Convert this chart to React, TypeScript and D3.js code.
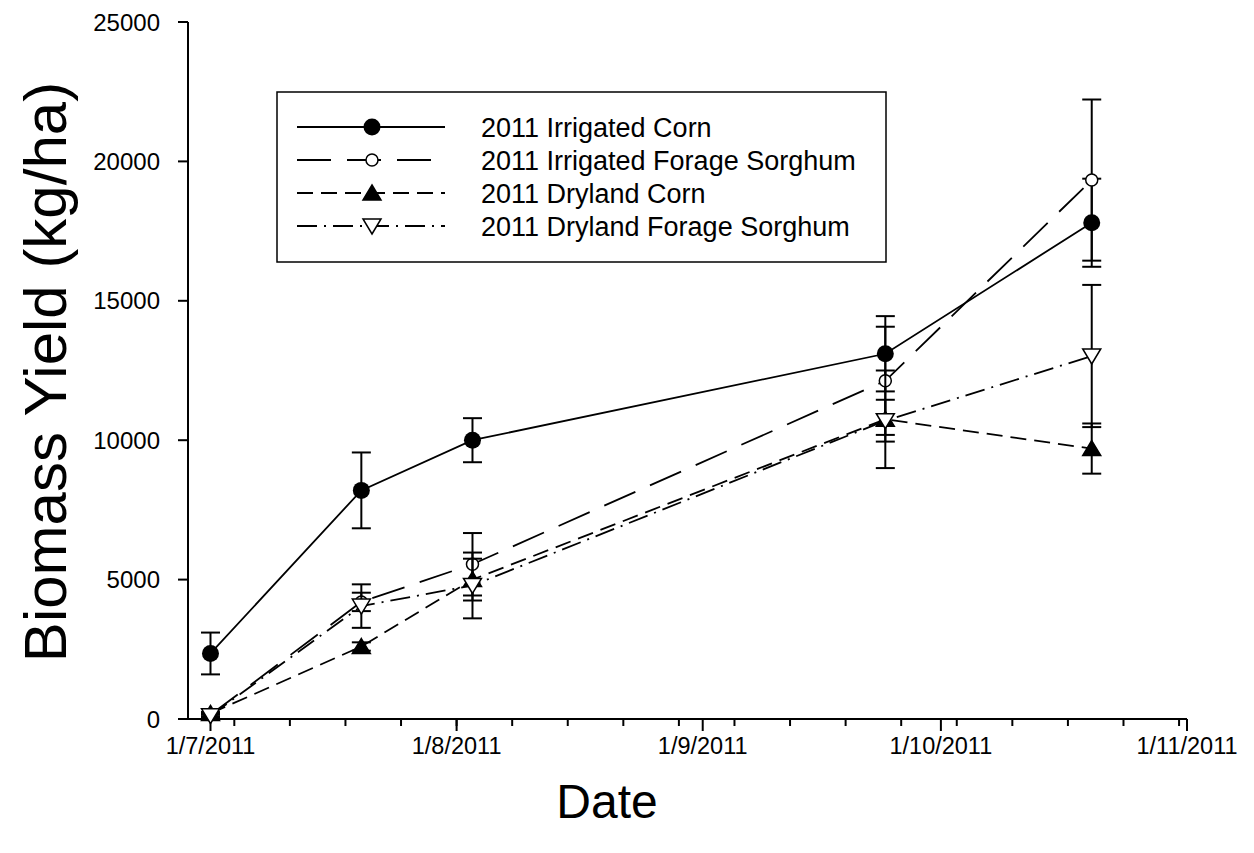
import React, { useEffect, useRef } from 'react';
import * as d3 from 'd3';

// sampling dates (d/m/yyyy in the original)
const sampleDates = [
  new Date(2011, 6, 1),
  new Date(2011, 6, 20),
  new Date(2011, 7, 3),
  new Date(2011, 8, 24),
  new Date(2011, 9, 20),
];

const seriesNames = [
  '2011 Irrigated Corn',
  '2011 Irrigated Forage Sorghum',
  '2011 Dryland Corn',
  '2011 Dryland Forage Sorghum',
];

const irrCorn = [2350, 8200, 10000, 13100, 17800];
const irrCornErr = [750, 1360, 790, 1350, 1580];
const irrSorghum = [150, 4200, 5550, 12130, 19330];
const irrSorghumErr = [60, 330, 1120, 1940, 2890];
const dryCorn = [200, 2600, 5000, 10750, 9700];
const dryCornErr = [50, 150, 750, 1750, 900];
const drySorghum = [120, 4050, 4790, 10700, 13020];
const drySorghumErr = [50, 780, 1180, 750, 2550];

const yTicks = [0, 5000, 10000, 15000, 20000, 25000];
const monthTicks = [
  new Date(2011, 6, 1),
  new Date(2011, 7, 1),
  new Date(2011, 8, 1),
  new Date(2011, 9, 1),
  new Date(2011, 10, 1),
];
const monthLabels = ['1/7/2011', '1/8/2011', '1/9/2011', '1/10/2011', '1/11/2011'];

const FONT = '"Liberation Sans", Arial, sans-serif';

function markerPath(kind: string) {
  // centred at 0,0
  if (kind === 'up') return 'M0,-8L9,7L-9,7Z';
  if (kind === 'down') return 'M0,8L9,-7L-9,-7Z';
  return '';
}

export default function App() {
  const ref = useRef<SVGSVGElement>(null);

  useEffect(() => {
    const svg = d3.select(ref.current);
    svg.selectAll('*').remove();

    const left = 188;
    const right = 1187;
    const top = 22;
    const bottom = 719;

    const x = d3
      .scaleTime()
      .domain([new Date(2011, 5, 28, 4), new Date(2011, 10, 1)])
      .range([left, right]);
    const y = d3.scaleLinear().domain([0, 25000]).range([bottom, top]);

    const series = [
      { name: seriesNames[0], vals: irrCorn, err: irrCornErr, dash: null, mark: 'filled' },
      { name: seriesNames[1], vals: irrSorghum, err: irrSorghumErr, dash: '34,16', mark: 'open' },
      { name: seriesNames[2], vals: dryCorn, err: dryCornErr, dash: '16,8', mark: 'up' },
      { name: seriesNames[3], vals: drySorghum, err: drySorghumErr, dash: '20,7,2,7', mark: 'down' },
    ];

    // axes
    const ax = svg.append('g').attr('stroke', '#000').attr('stroke-width', 2);
    ax.append('line').attr('x1', left).attr('x2', left).attr('y1', top).attr('y2', bottom + 1);
    ax.append('line').attr('x1', left - 1).attr('x2', right).attr('y1', bottom).attr('y2', bottom);

    yTicks.forEach((t) => {
      ax.append('line').attr('x1', left - 10).attr('x2', left).attr('y1', y(t)).attr('y2', y(t));
      svg
        .append('text')
        .attr('x', left - 28)
        .attr('y', y(t))
        .attr('dy', '0.36em')
        .attr('text-anchor', 'end')
        .style('font-family', FONT)
        .style('font-size', '24px')
        .text(t);
    });

    const mondays = d3.timeMonday.range(x.domain()[0], x.domain()[1]);
    mondays.forEach((d) => {
      ax.append('line').attr('x1', x(d)).attr('x2', x(d)).attr('y1', bottom).attr('y2', bottom + 7);
    });
    monthTicks.forEach((d, i) => {
      ax.append('line').attr('x1', x(d)).attr('x2', x(d)).attr('y1', bottom).attr('y2', bottom + 12);
      svg
        .append('text')
        .attr('x', x(d))
        .attr('y', 754)
        .attr('text-anchor', 'middle')
        .style('font-family', FONT)
        .style('font-size', '23.5px')
        .text(monthLabels[i]);
    });

    // axis titles
    svg
      .append('text')
      .attr('x', 607)
      .attr('y', 818)
      .attr('text-anchor', 'middle')
      .style('font-family', FONT)
      .style('font-size', '48px')
      .text('Date');
    svg
      .append('text')
      .attr('transform', 'translate(66,372) rotate(-90)')
      .attr('text-anchor', 'middle')
      .style('font-family', FONT)
      .style('font-size', '60px')
      .text('Biomass Yield (kg/ha)');

    const line = d3
      .line<number>()
      .x((d, i) => x(sampleDates[i]))
      .y((d) => y(d));

    const drawMarker = (g: any, kind: string, cx: number, cy: number) => {
      if (kind === 'filled') {
        g.append('circle').attr('cx', cx).attr('cy', cy).attr('r', 8.5).attr('fill', '#000');
      } else if (kind === 'open') {
        g.append('circle')
          .attr('cx', cx)
          .attr('cy', cy)
          .attr('r', 6)
          .attr('fill', '#fff')
          .attr('stroke', '#000')
          .attr('stroke-width', 1.5);
      } else {
        g.append('path')
          .attr('d', markerPath(kind))
          .attr('transform', `translate(${cx},${cy})`)
          .attr('fill', kind === 'up' ? '#000' : '#fff')
          .attr('stroke', '#000')
          .attr('stroke-width', 1.5);
      }
    };

    series.forEach((s) => {
      const g = svg.append('g');
      g.append('path')
        .attr('d', line(s.vals))
        .attr('fill', 'none')
        .attr('stroke', '#000')
        .attr('stroke-width', 1.8)
        .attr('stroke-dasharray', s.dash);

      s.vals.forEach((v, i) => {
        const cx = x(sampleDates[i]);
        const hi = y(v + s.err[i]);
        const lo = y(Math.max(0, v - s.err[i]));
        const eb = g.append('g').attr('stroke', '#000').attr('stroke-width', 2);
        eb.append('line').attr('x1', cx).attr('x2', cx).attr('y1', hi).attr('y2', lo);
        eb.append('line').attr('x1', cx - 9.5).attr('x2', cx + 9.5).attr('y1', hi).attr('y2', hi);
        eb.append('line').attr('x1', cx - 9.5).attr('x2', cx + 9.5).attr('y1', lo).attr('y2', lo);
      });
      s.vals.forEach((v, i) => drawMarker(g, s.mark, x(sampleDates[i]), y(v)));
    });

    // legend
    const lg = svg.append('g');
    lg.append('rect')
      .attr('x', 277)
      .attr('y', 92)
      .attr('width', 609)
      .attr('height', 170)
      .attr('fill', '#fff')
      .attr('stroke', '#000')
      .attr('stroke-width', 1.5);
    series.forEach((s, i) => {
      const ry = 127 + i * 33;
      lg.append('line')
        .attr('x1', 297)
        .attr('x2', 445)
        .attr('y1', ry)
        .attr('y2', ry)
        .attr('stroke', '#000')
        .attr('stroke-width', 1.8)
        .attr('stroke-dasharray', s.dash);
      drawMarker(lg, s.mark, 372, ry);
      lg.append('text')
        .attr('x', 481)
        .attr('y', ry)
        .attr('dy', '0.36em')
        .style('font-family', FONT)
        .style('font-size', '27px')
        .text(s.name);
    });
  }, []);

  return (
    <svg
      ref={ref}
      width={1254}
      height={853}
      style={{ position: 'absolute', left: 0, top: 0, background: '#fff' }}
    />
  );
}
